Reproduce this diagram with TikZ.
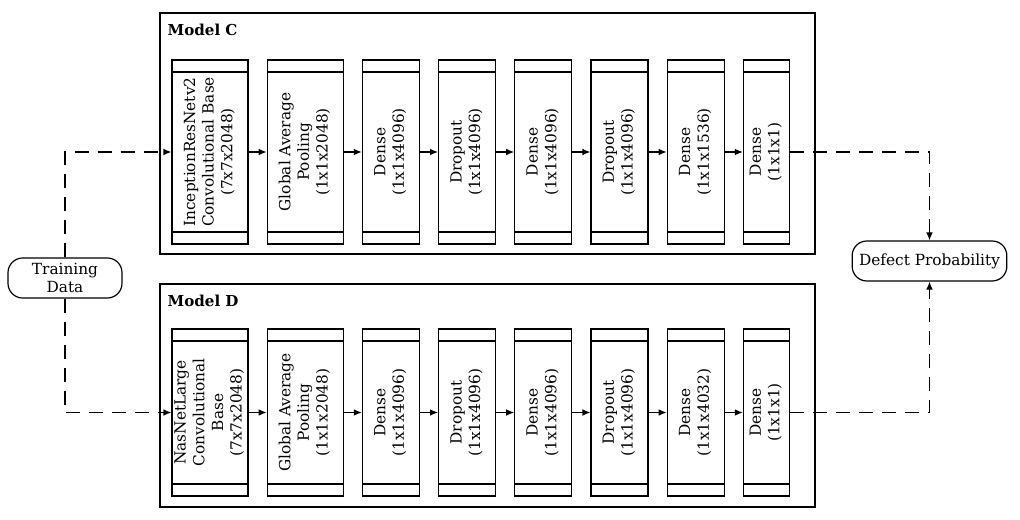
\documentclass[tikz,border=0pt]{standalone}
\usepackage{fontspec}
\setmainfont{DejaVu Serif}
\usetikzlibrary{positioning,arrows.meta}

\tikzset{
  layer/.style={draw, line width=0.9pt, inner sep=0pt, minimum width=42.75pt, minimum height=138pt,
    path picture={
      \draw[line width=0.9pt] ([yshift=-9pt]path picture bounding box.north west) -- ([yshift=-9pt]path picture bounding box.north east);
      \draw[line width=0.9pt] ([yshift=9pt]path picture bounding box.south west) -- ([yshift=9pt]path picture bounding box.south east);
    }},
  wide/.style={minimum width=57pt},
  slim/.style={minimum width=34.5pt},
  short/.style={minimum height=125.25pt},
  frame/.style={draw, line width=0.9pt, minimum width=491.25pt, inner sep=0pt},
  terminal/.style={draw, line width=0.9pt, rounded corners=11pt, minimum height=30pt, align=center, inner sep=3pt},
  flow/.style={line width=0.9pt, -{Latex[length=6pt,width=5pt]}},
  dataflow/.style={flow, dash pattern=on 10.5pt off 6.75pt},
}
\newcommand{\vlabel}[1]{\rotatebox{90}{\begin{tabular}{@{}c@{}}#1\end{tabular}}}

\begin{document}
\begin{tikzpicture}[x=0.75pt, y=-0.75pt, font=\fontsize{11.5}{14}\selectfont]
      \useasboundingbox (0,0) rectangle (1020,520);

      \node[frame, minimum height=180.75pt] (framec) at (487.5,133.5) {};
      \node[frame, minimum height=167.25pt] (framed) at (487.5,395.5) {};
      \node[anchor=north west, inner sep=0pt, font=\fontsize{11.3}{13.3}\selectfont\bfseries] (labelc) at ([shift={(6pt,-8.5pt)}]framec.north west) {Model C};
      \node[anchor=north west, inner sep=0pt, font=\fontsize{11.3}{13.3}\selectfont\bfseries] (labeld) at ([shift={(6pt,-8.5pt)}]framed.north west) {Model D};

      \node[layer, wide] (c1) at (210,152) {\vlabel{InceptionResNetv2\\Convolutional Base\\(7x7x2048)}};
      \node[layer, wide, right=13.5pt of c1] (c2) {\vlabel{Global Average\\Pooling\\(1x1x2048)}};
      \node[layer, right=13.5pt of c2] (c3) {\vlabel{Dense\\(1x1x4096)}};
      \node[layer, right=13.5pt of c3] (c4) {\vlabel{Dropout\\(1x1x4096)}};
      \node[layer, right=13.5pt of c4] (c5) {\vlabel{Dense\\(1x1x4096)}};
      \node[layer, right=13.5pt of c5] (c6) {\vlabel{Dropout\\(1x1x4096)}};
      \node[layer, right=13.5pt of c6] (c7) {\vlabel{Dense\\(1x1x1536)}};
      \node[layer, slim, right=13.5pt of c7] (c8) {\vlabel{Dense\\(1x1x1)}};

      \node[layer, short, wide] (d1) at (210,412.5) {\vlabel{NasNetLarge\\Convolutional\\Base\\(7x7x2048)}};
      \node[layer, short, wide, right=13.5pt of d1] (d2) {\vlabel{Global Average\\Pooling\\(1x1x2048)}};
      \node[layer, short, right=13.5pt of d2] (d3) {\vlabel{Dense\\(1x1x4096)}};
      \node[layer, short, right=13.5pt of d3] (d4) {\vlabel{Dropout\\(1x1x4096)}};
      \node[layer, short, right=13.5pt of d4] (d5) {\vlabel{Dense\\(1x1x4096)}};
      \node[layer, short, right=13.5pt of d5] (d6) {\vlabel{Dropout\\(1x1x4096)}};
      \node[layer, short, right=13.5pt of d6] (d7) {\vlabel{Dense\\(1x1x4032)}};
      \node[layer, short, slim, right=13.5pt of d7] (d8) {\vlabel{Dense\\(1x1x1)}};

      \node[terminal, minimum width=85.5pt] (train) at (65,278) {Training\\Data};
      \node[terminal, minimum width=116pt] (defect) at (929.5,261) {Defect Probability};

      \draw[flow] (c1) -- (c2);
      \draw[flow] (c2) -- (c3);
      \draw[flow] (c3) -- (c4);
      \draw[flow] (c4) -- (c5);
      \draw[flow] (c5) -- (c6);
      \draw[flow] (c6) -- (c7);
      \draw[flow] (c7) -- (c8);

      \draw[flow] (d1) -- (d2);
      \draw[flow] (d2) -- (d3);
      \draw[flow] (d3) -- (d4);
      \draw[flow] (d4) -- (d5);
      \draw[flow] (d5) -- (d6);
      \draw[flow] (d6) -- (d7);
      \draw[flow] (d7) -- (d8);

      \draw[dataflow] (train.north) |- (c1.west);
      \draw[dataflow] (train.south) |- (d1.west);
      \draw[dataflow] (c8.east) -| (defect.north);
      \draw[dataflow] (d8.east) -| (defect.south);
    \end{tikzpicture}
\end{document}
